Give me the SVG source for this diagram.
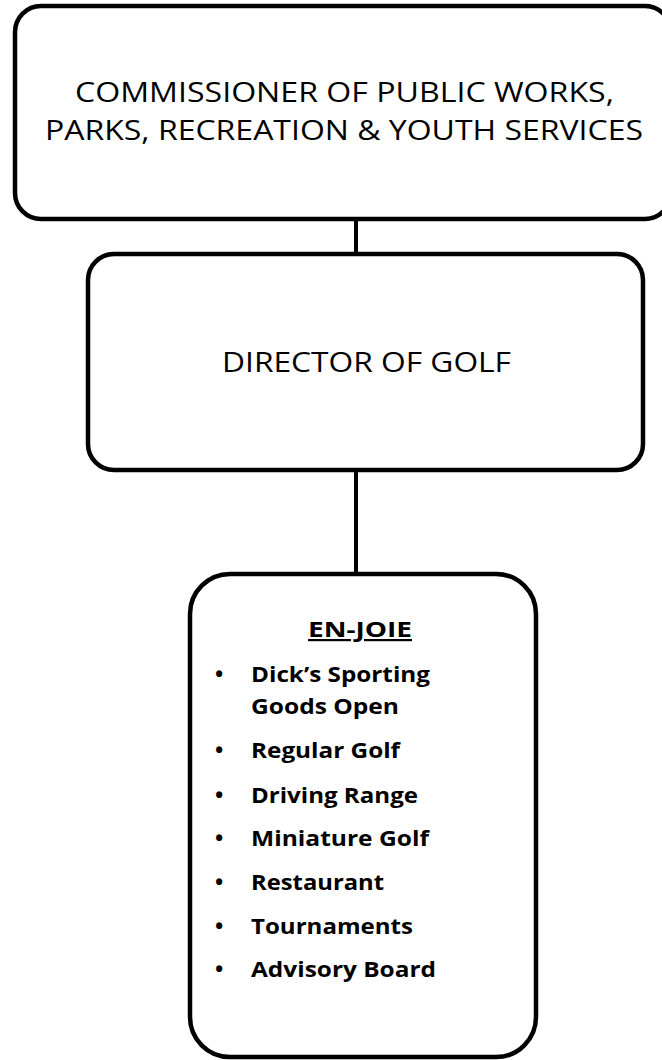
<svg xmlns="http://www.w3.org/2000/svg" width="662" height="1060" viewBox="0 0 662 1060">
<style>
.box{fill:#fff;stroke:#000;stroke-width:4.5}
.conn{stroke:#000;stroke-width:4;fill:none}
.t{font-family:"Open Sans",Lato,"Liberation Sans",sans-serif;font-size:28px;fill:#000}
.b{font-family:"Open Sans",Lato,"Liberation Sans",sans-serif;font-size:22px;font-weight:bold;fill:#000}
</style>
<rect width="662" height="1060" fill="#fff"/>
<g id="connectors">
<line class="conn" x1="356" y1="216" x2="356" y2="256"/>
<line class="conn" x1="356" y1="468" x2="356" y2="576"/>
</g>
<g id="commissioner">
<rect class="box" x="15" y="6" width="656" height="213" rx="26" ry="26"/>
<text class="t" x="75" y="102" textLength="539" lengthAdjust="spacingAndGlyphs">COMMISSIONER OF PUBLIC WORKS,</text>
<text class="t" x="45" y="140" textLength="598" lengthAdjust="spacingAndGlyphs">PARKS, RECREATION &amp; YOUTH SERVICES</text>
</g>
<g id="director">
<rect class="box" x="88" y="254" width="555" height="216" rx="26" ry="26"/>
<text class="t" x="222" y="372" textLength="289" lengthAdjust="spacingAndGlyphs">DIRECTOR OF GOLF</text>
</g>
<g id="enjoie">
<rect class="box" x="190" y="574" width="346" height="483" rx="40" ry="40"/>
<text class="b" x="308" y="637" textLength="104" lengthAdjust="spacingAndGlyphs" text-decoration="underline">EN-JOIE</text>
<g class="b">
<text x="215" y="682">•</text>
<text x="251" y="682" textLength="179" lengthAdjust="spacingAndGlyphs">Dick’s Sporting</text>
<text x="251" y="714" textLength="148" lengthAdjust="spacingAndGlyphs">Goods Open</text>
<text x="215" y="758">•</text>
<text x="251" y="758" textLength="149" lengthAdjust="spacingAndGlyphs">Regular Golf</text>
<text x="215" y="803">•</text>
<text x="251" y="803" textLength="167" lengthAdjust="spacingAndGlyphs">Driving Range</text>
<text x="215" y="846">•</text>
<text x="251" y="846" textLength="178" lengthAdjust="spacingAndGlyphs">Miniature Golf</text>
<text x="215" y="890">•</text>
<text x="251" y="890" textLength="133" lengthAdjust="spacingAndGlyphs">Restaurant</text>
<text x="215" y="934">•</text>
<text x="251" y="934" textLength="162" lengthAdjust="spacingAndGlyphs">Tournaments</text>
<text x="215" y="977">•</text>
<text x="251" y="977" textLength="185" lengthAdjust="spacingAndGlyphs">Advisory Board</text>
</g>
</g>
</svg>
